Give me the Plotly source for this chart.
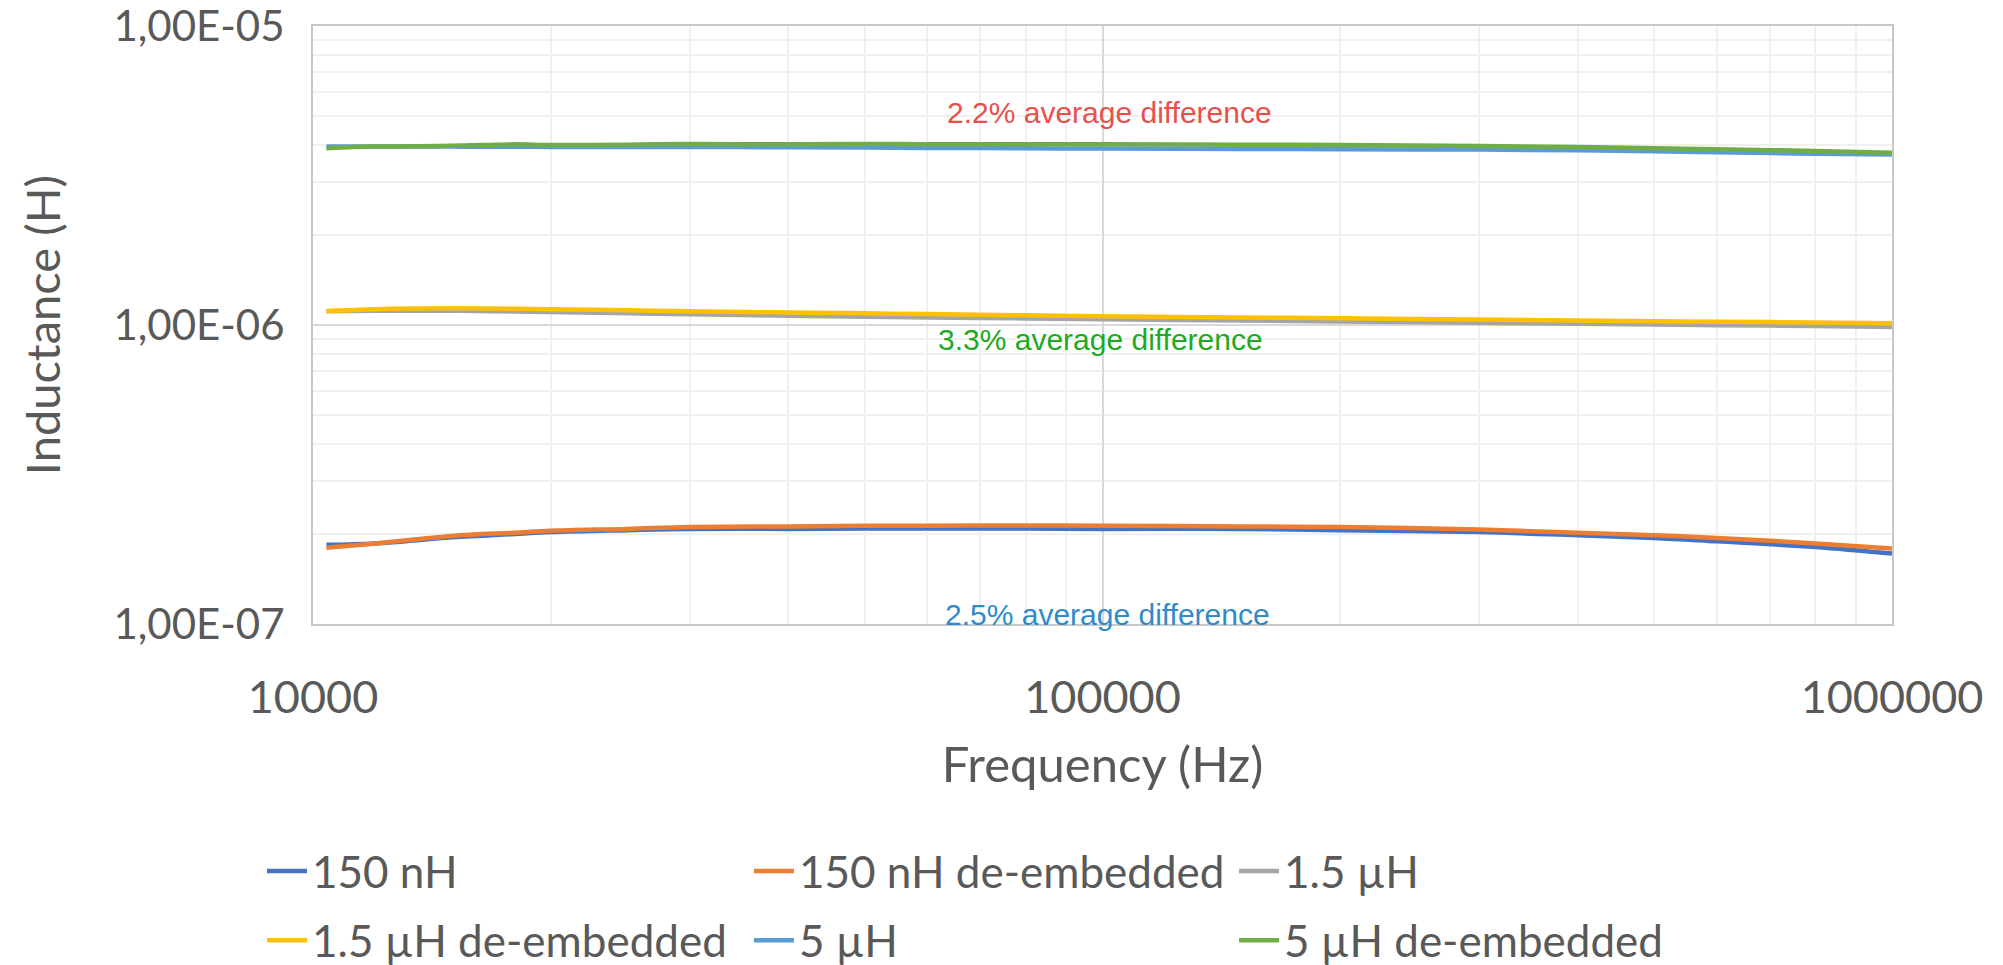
import math
import plotly.graph_objects as go

freq = [10400, 12000, 15000, 18000, 20000, 25000, 30000, 40000, 50000, 60000,
        80000, 100000, 150000, 200000, 300000, 400000, 500000, 600000, 800000, 1000000]

l150 = [1.84e-7, 1.86e-7, 1.95e-7, 2.00e-7, 2.03e-7, 2.06e-7, 2.08e-7, 2.08e-7, 2.085e-7, 2.085e-7,
        2.085e-7, 2.08e-7, 2.08e-7, 2.06e-7, 2.03e-7, 1.98e-7, 1.94e-7, 1.89e-7, 1.81e-7, 1.72e-7]
l150_de = [1.80e-7, 1.86e-7, 1.97e-7, 2.02e-7, 2.05e-7, 2.08e-7, 2.11e-7, 2.12e-7, 2.13e-7, 2.13e-7,
           2.135e-7, 2.13e-7, 2.12e-7, 2.11e-7, 2.07e-7, 2.02e-7, 1.98e-7, 1.94e-7, 1.86e-7, 1.79e-7]
l1u5 = [1.112e-6, 1.115e-6, 1.116e-6, 1.110e-6, 1.105e-6, 1.095e-6, 1.086e-6, 1.074e-6, 1.065e-6, 1.060e-6,
        1.052e-6, 1.045e-6, 1.035e-6, 1.028e-6, 1.018e-6, 1.010e-6, 1.004e-6, 0.999e-6, 0.992e-6, 0.985e-6]
l1u5_de = [1.114e-6, 1.130e-6, 1.137e-6, 1.133e-6, 1.129e-6, 1.120e-6, 1.111e-6, 1.102e-6, 1.094e-6, 1.088e-6,
           1.078e-6, 1.070e-6, 1.060e-6, 1.053e-6, 1.043e-6, 1.036e-6, 1.030e-6, 1.026e-6, 1.020e-6, 1.014e-6]
l5u = [3.95e-6, 3.95e-6, 3.95e-6, 3.945e-6, 3.94e-6, 3.94e-6, 3.94e-6, 3.93e-6, 3.92e-6, 3.91e-6,
       3.90e-6, 3.89e-6, 3.88e-6, 3.87e-6, 3.86e-6, 3.84e-6, 3.81e-6, 3.78e-6, 3.74e-6, 3.72e-6]
l5u_de = [3.90e-6, 3.95e-6, 3.975e-6, 4.02e-6, 4.00e-6, 4.01e-6, 4.03e-6, 4.02e-6, 4.03e-6, 4.025e-6,
          4.025e-6, 4.02e-6, 4.01e-6, 4.00e-6, 3.97e-6, 3.94e-6, 3.90e-6, 3.87e-6, 3.82e-6, 3.77e-6]

series_names = ["150 nH", "150 nH de-embedded", "1.5 µH", "1.5 µH de-embedded", "5 µH", "5 µH de-embedded"]
series_vals = [l150, l150_de, l1u5, l1u5_de, l5u, l5u_de]
series_colors = ["#4472C4", "#ED7D31", "#A5A5A5", "#FFC000", "#5B9BD5", "#70AD47"]

xtick_vals = [10000, 100000, 1000000]
xtick_text = ["10000", "100000", "1000000"]
ytick_vals = [1e-7, 1e-6, 1e-5]
ytick_text = ["1,00E-07", "1,00E-06", "1,00E-05"]

notes = ["2.2% average difference", "3.3% average difference", "2.5% average difference"]
note_x = [102200, 99500, 101400]
note_y = [5.12e-6, 8.91e-7, 1.08e-7]
note_colors = ["#E8504C", "#1EAA1E", "#2E8BC9"]

FONT = "Lato, 'Open Sans', sans-serif"
GRAY = "#595959"

# legend grid: 3 columns x 2 rows (paper coords)
leg_cols = [-0.0323, 0.2761, 0.5833]
leg_rows = [-0.3545, -0.4700]
legend_ids = ["legend", "legend2", "legend3", "legend4", "legend5", "legend6"]

fig = go.Figure()
for i, (name, vals, col) in enumerate(zip(series_names, series_vals, series_colors)):
    fig.add_trace(go.Scatter(x=freq, y=vals, name=name, mode="lines", legend=legend_ids[i],
                             line=dict(color=col, width=4.5, shape="spline")))

for t, x, y, c in zip(notes, note_x, note_y, note_colors):
    fig.add_annotation(text=t, x=math.log10(x), y=math.log10(y), xref="x", yref="y",
                       showarrow=False, font=dict(family="Liberation Sans, Arial", size=30, color=c))

fig.update_xaxes(type="log", range=[4, 6], tickvals=xtick_vals, ticktext=xtick_text,
                 tickfont=dict(family=FONT, size=45, color=GRAY), ticklabeloverflow="allow",
                 showgrid=True, gridcolor="#D9D9D9", gridwidth=1.5,
                 minor=dict(dtick="D1", showgrid=True, gridcolor="#F0F0F0", gridwidth=1.5, ticks=""),
                 showline=True, linecolor="#C8C8C8", linewidth=2, mirror=True,
                 ticks="", ticklabelstandoff=33, zeroline=False,
                 title=dict(text="Frequency (Hz)", font=dict(family=FONT, size=49, color=GRAY), standoff=26))
fig.update_yaxes(type="log", range=[-7.00001, -4.99999], tickvals=ytick_vals, ticktext=ytick_text,
                 tickfont=dict(family=FONT, size=42, color=GRAY), ticklabeloverflow="allow",
                 showgrid=True, gridcolor="#D9D9D9", gridwidth=1.5,
                 minor=dict(dtick="D1", showgrid=True, gridcolor="#F0F0F0", gridwidth=1.5, ticks=""),
                 showline=True, linecolor="#C8C8C8", linewidth=2, mirror=True,
                 ticks="", ticklabelstandoff=18, zeroline=False,
                 title=dict(text="Inductance (H)", font=dict(family=FONT, size=47, color=GRAY), standoff=38))

legend_layout = {}
for i, lid in enumerate(legend_ids):
    legend_layout[lid] = dict(x=leg_cols[i % 3], y=leg_rows[i // 3], xanchor="left", yanchor="top",
                              orientation="h", font=dict(family=FONT, size=44, color=GRAY),
                              itemwidth=40, bgcolor="rgba(0,0,0,0)", borderwidth=0)

fig.update_layout(
    width=2003, height=965,
    margin=dict(l=313, r=111, t=26, b=341, autoexpand=False),
    paper_bgcolor="white", plot_bgcolor="white",
    showlegend=True,
    **legend_layout,
)

fig.write_html("out.html")
